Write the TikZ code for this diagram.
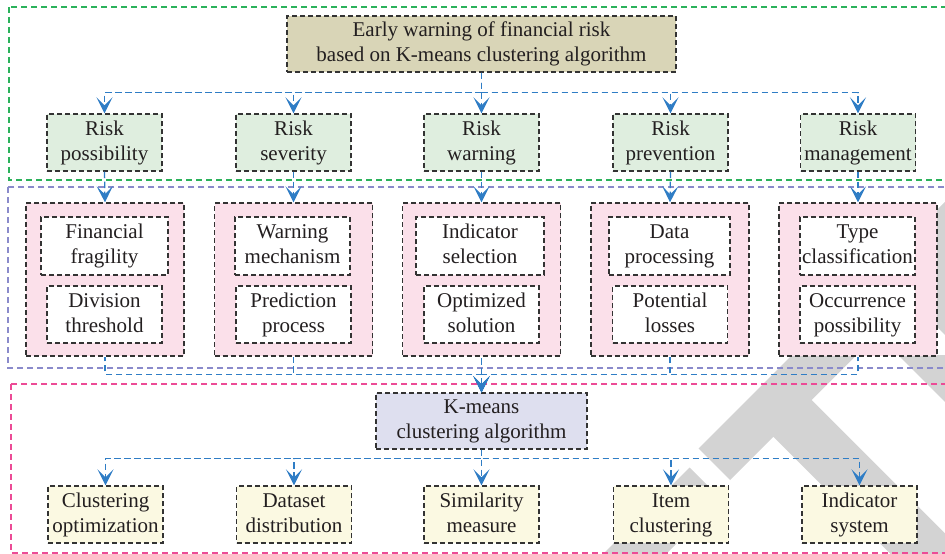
\documentclass[tikz,border=0pt]{standalone}
\usepackage{fontspec}
\setmainfont{Liberation Serif}
\usetikzlibrary{arrows.meta}
\definecolor{txt}{HTML}{231F20}
\definecolor{bordc}{HTML}{333333}
\definecolor{topfill}{HTML}{D9D5B7}
\definecolor{riskfill}{HTML}{DFEEDF}
\definecolor{pinkfill}{HTML}{FBE0EA}
\definecolor{kmfill}{HTML}{DEDFEF}
\definecolor{botfill}{HTML}{FBF9E2}
\definecolor{conncol}{HTML}{2F7DC5}
\definecolor{gcol}{HTML}{2BB25B}
\definecolor{pcol}{HTML}{8A8ACB}
\definecolor{kcol}{HTML}{EC4B96}
\definecolor{wmcol}{HTML}{D3D3D3}
\newcommand{\fs}{\fontsize{21}{25}\selectfont}
\newcommand{\twol}[2]{\rule{0pt}{15pt}#1\\#2\rule[-5pt]{0pt}{5pt}}
\tikzset{
  boxbase/.style={draw=bordc, dash pattern=on 5pt off 3pt, line width=1.4pt, align=center, inner sep=0pt, text=txt, font=\fs},
  topbox/.style={boxbase, fill=topfill, minimum width=389pt, minimum height=56pt},
  riskbox/.style={boxbase, fill=riskfill, minimum width=115pt, minimum height=57pt},
  pinkbox/.style={boxbase, fill=pinkfill, minimum width=158pt, minimum height=153pt},
  innerbox/.style={boxbase, fill=white, minimum height=57pt},
  kmbox/.style={boxbase, fill=kmfill, minimum width=211pt, minimum height=56pt},
  botbox/.style={boxbase, fill=botfill, minimum width=115pt, minimum height=57pt},
  conn/.style={draw=conncol, line width=1.3pt, dash pattern=on 6.5pt off 3.5pt, -{Stealth[length=16pt, width=16pt, inset=8pt, fill=conncol]}},
  connrev/.style={draw=conncol, line width=1.3pt, dash pattern=on 6.5pt off 3.5pt, {Stealth[length=16pt, width=16pt, inset=8pt, fill=conncol]}-},
  frame/.style={line width=1.2pt, dash pattern=on 6pt off 4pt},
  wm/.style={fill=wmcol}
}
\begin{document}
\begin{tikzpicture}[x=1pt, y=-1pt]
\useasboundingbox (0,0) rectangle (945,554);
\clip (0,0) rectangle (945,554);
\fill[white] (0,0) rectangle (945,554);
% watermark
\fill[wm] (698.5,448.5) -- (730,480) -- (773.3,436.7) -- (1000,663.4) -- (1000,588.3) -- (811.7,400) -- (1100,111.7) -- (1100,47) -- cycle;
\fill[wm] (878.5,268.5) -- (1100,47) -- (1100,490) -- cycle;
\fill[wm] (898,355) -- (1000,355) -- (1000,457) -- cycle;
\fill[wm] (689.5,467.5) -- (721,499) -- (600,620) -- (537,620) -- cycle;
% frames
\draw[frame, draw=gcol] (9,7) rectangle (960,180);
\draw[frame, draw=pcol] (8,187) rectangle (960,368);
\draw[frame, draw=kcol] (11,384) rectangle (960,553);
% nodes
\node[topbox] (top) at (481.5,44) {\twol{Early warning of financial risk}{based on K-means clustering algorithm}};
\node[riskbox] (r1) at (104.5,142.5) {\twol{Risk}{possibility}};
\node[riskbox] (r2) at (293.5,142.5) {\twol{Risk}{severity}};
\node[riskbox] (r3) at (481.5,142.5) {\twol{Risk}{warning}};
\node[riskbox] (r4) at (670.5,142.5) {\twol{Risk}{prevention}};
\node[riskbox] (r5) at (858,142.5) {\twol{Risk}{management}};
\node[pinkbox] (p1) at (105,279.5) {};
\node[pinkbox] (p2) at (293.5,279.5) {};
\node[pinkbox] (p3) at (481.5,279.5) {};
\node[pinkbox] (p4) at (670,279.5) {};
\node[pinkbox] (p5) at (858,279.5) {};
\node[innerbox, minimum width=127pt, minimum height=58pt] (u1) at (104.5,246) {\twol{Financial}{fragility}};
\node[innerbox, minimum width=115pt, minimum height=58pt] (u2) at (292.5,246) {\twol{Warning}{mechanism}};
\node[innerbox, minimum width=128pt, minimum height=58pt] (u3) at (480,246) {\twol{Indicator}{selection}};
\node[innerbox, minimum width=121pt, minimum height=58pt] (u4) at (669.5,246) {\twol{Data}{processing}};
\node[innerbox, minimum width=115pt, minimum height=58pt] (u5) at (857.5,246) {\twol{Type}{classification}};
\node[innerbox, minimum width=115pt] (l1) at (104.5,314.5) {\twol{Division}{threshold}};
\node[innerbox, minimum width=115pt] (l2) at (293.5,314.5) {\twol{Prediction}{process}};
\node[innerbox, minimum width=115pt] (l3) at (481.5,314.5) {\twol{Optimized}{solution}};
\node[innerbox, minimum width=115pt] (l4) at (670,314.5) {\twol{Potential}{losses}};
\node[innerbox, minimum width=115pt] (l5) at (857.5,314.5) {\twol{Occurrence}{possibility}};
\node[kmbox] (km) at (481.5,421) {\twol{K-means}{clustering algorithm}};
\node[botbox] (b1) at (105.5,514.5) {\twol{Clustering}{optimization}};
\node[botbox] (b2) at (294,514.5) {\twol{Dataset}{distribution}};
\node[botbox] (b3) at (481.5,514.5) {\twol{Similarity}{measure}};
\node[botbox] (b4) at (671,514.5) {\twol{Item}{clustering}};
\node[botbox] (b5) at (859.5,514.5) {\twol{Indicator}{system}};
% connectors: top -> risk
\draw[conn] (top.south) -- (r3.north);
\foreach \i in {1,2,4,5} {\draw[conn] (top.south) -- ++(0,20) -| (r\i.north);}
% risk -> pink
\foreach \i in {1,...,5} {\draw[conn] (r\i.south) -- (p\i.north);}
% pink -> kmeans
\draw[connrev] (km.north) -- (p3.south);
\foreach \i in {1,2,4,5} {\draw[connrev] (km.north) -- ++(0,-18) -| (p\i.south);}
% kmeans -> bottom
\draw[conn] (km.south) -- (b3.north);
\foreach \i in {1,2,4,5} {\draw[conn] (km.south) -- ++(0,9) -| (b\i.north);}
\end{tikzpicture}
\end{document}
